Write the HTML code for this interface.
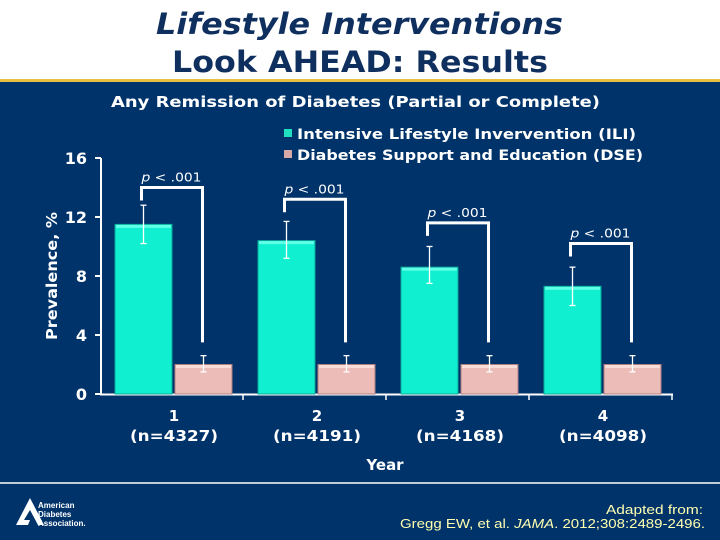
<!DOCTYPE html>
<html><head><meta charset="utf-8"><style>
body{margin:0;width:720px;height:540px;overflow:hidden;font-family:"DejaVu Sans","Liberation Sans",sans-serif}
#top{position:absolute;left:0;top:0;width:720px;height:79px;background:#fff}
#gold{position:absolute;left:0;top:79px;width:720px;height:3px;background:#e8c040}
#main{position:absolute;left:0;top:82px;width:720px;height:458px;background:#00336a}
</style></head><body>
<div id="top"></div>
<div id="gold"></div>
<div id="main"></div>
<svg id="chart" width="720" height="540" style="position:absolute;left:0;top:0" font-family="DejaVu Sans, Liberation Sans, sans-serif"></svg>
<script>
const categories=["1","2","3","4"];
const nLabels=["(n=4327)","(n=4191)","(n=4168)","(n=4098)"];
const iliValues=[11.5,10.4,8.6,7.3];
const iliLow=[10.2,9.2,7.5,6.0];
const iliHigh=[12.8,11.7,10.0,8.6];
const dseValues=[2.0,2.0,2.0,2.0];
const dseLow=[1.5,1.5,1.5,1.5];
const dseHigh=[2.6,2.6,2.6,2.6];
const bracketTop=[14.0,13.2,11.6,10.2];
const yTicks=[0,4,8,12,16];
const NS="http://www.w3.org/2000/svg";
const svg=document.getElementById('chart');
function y(v){return 394-v*14.75;}
function gx(i){return 101+i*143;}
function mk(tag,attrs,parent){const e=document.createElementNS(NS,tag);for(const k in attrs)e.setAttribute(k,attrs[k]);(parent||svg).appendChild(e);return e;}
function txt(s,attrs){const e=mk('text',attrs);e.textContent=s;return e;}
let e;
e=txt("Lifestyle Interventions",{x:156,y:34,fill:'#0f2f5f','font-size':29,'font-weight':'bold','font-style':'italic',textLength:407,lengthAdjust:'spacingAndGlyphs'});


e=txt("Look AHEAD: Results",{x:172,y:72,fill:'#0f2f5f','font-size':29,'font-weight':'bold',textLength:376,lengthAdjust:'spacingAndGlyphs'});


e=txt("Any Remission of Diabetes (Partial or Complete)",{x:111,y:107,fill:'#fff','font-size':15,'font-weight':'bold',textLength:489,lengthAdjust:'spacingAndGlyphs'});


// legend
e=mk('rect',{x:284,y:129,width:8,height:8,fill:'#20e0c0'});


e=txt("Intensive Lifestyle Invervention (ILI)",{x:297,y:139,fill:'#fff','font-size':14,'font-weight':'bold',textLength:339,lengthAdjust:'spacingAndGlyphs'});


e=mk('rect',{x:284,y:150,width:8,height:8,fill:'#d8a8a8'});


e=txt("Diabetes Support and Education (DSE)",{x:297,y:160,fill:'#fff','font-size':14,'font-weight':'bold',textLength:346,lengthAdjust:'spacingAndGlyphs'});


// axes
e=mk('line',{x1:101,y1:158,x2:101,y2:395,stroke:'#fff','stroke-width':2});


e=mk('line',{x1:100,y1:394.5,x2:673,y2:394.5,stroke:'#fff','stroke-width':2});


yTicks.forEach(v=>{
 mk('line',{x1:95,y1:y(v),x2:101,y2:y(v),stroke:'#fff','stroke-width':2});
 e=txt(String(v),{x:87,y:y(v)+6,'text-anchor':'end',fill:'#fff','font-size':16,'font-weight':'bold'});
 
 
});
for(let i=1;i<=4;i++) mk('line',{x1:gx(i)-1,y1:394,x2:gx(i)-1,y2:400,stroke:'#fff','stroke-width':1.5});
e=txt("Prevalence, %",{x:0,y:0,transform:'translate(57,276) rotate(-90)','text-anchor':'middle',fill:'#fff','font-size':15,'font-weight':'bold',textLength:128,lengthAdjust:'spacingAndGlyphs'});


e=txt("Year",{x:385,y:470,'text-anchor':'middle',fill:'#fff','font-size':15,'font-weight':'bold'});


function errbar(cx,lo,hi){
 mk('line',{x1:cx,y1:y(lo),x2:cx,y2:y(hi),stroke:'#fff','stroke-width':1.3});
 mk('line',{x1:cx-3,y1:y(lo),x2:cx+3,y2:y(lo),stroke:'#fff','stroke-width':1.3});
 mk('line',{x1:cx-3,y1:y(hi),x2:cx+3,y2:y(hi),stroke:'#fff','stroke-width':1.3});
}
categories.forEach((c,i)=>{
 const x0=gx(i)+14, w=57;
 e=mk('rect',{x:x0,y:y(iliValues[i]),width:w,height:y(0)-y(iliValues[i]),fill:'#10f0d0',stroke:'#0aa898','stroke-width':1});
 
 
 mk('rect',{x:x0+1,y:y(iliValues[i])+0.5,width:w-2,height:3,fill:'#60ffe8'});
 const x1=x0+w+3;
 e=mk('rect',{x:x1,y:y(dseValues[i]),width:w,height:y(0)-y(dseValues[i]),fill:'#ecbcb8',stroke:'#b08080','stroke-width':1});
 
 
 mk('rect',{x:x1+1,y:y(dseValues[i])+0.5,width:w-2,height:3,fill:'#f8dcd8'});
 errbar(x0+w/2,iliLow[i],iliHigh[i]);
 errbar(x1+w/2,dseLow[i],dseHigh[i]);
 const lx=x0+w/2-2, rx=x1+w/2-1, ty=y(bracketTop[i]);
 e=mk('polyline',{points:`${lx},${ty+13} ${lx},${ty} ${rx},${ty} ${rx},${y(3.5)}`,fill:'none',stroke:'#fff','stroke-width':3});
 
 
 e=mk('text',{x:lx,y:ty-6,fill:'#fff','font-size':12,'font-family':'DejaVu Sans, sans-serif',textLength:60,lengthAdjust:'spacingAndGlyphs'});
 e.innerHTML='<tspan font-style="italic">p</tspan> &lt; .001';
 
 
 e=txt(c,{x:gx(i)+73,y:421,'text-anchor':'middle',fill:'#fff','font-size':15,'font-weight':'bold'});
 
 
 e=txt(nLabels[i],{x:gx(i)+73,y:441,'text-anchor':'middle',fill:'#fff','font-size':15,'font-weight':'bold',textLength:88,lengthAdjust:'spacingAndGlyphs'});
 
 
});
e=mk('line',{x1:0,y1:483,x2:720,y2:483,stroke:'#fff','stroke-width':1.5});


e=mk('polygon',{points:'16,525 30,498 44,525 38,525 30,510 24,520 30,520 28,525',fill:'#fff'});


[["American",504],["Diabetes",513],["Association.",522]].forEach(a=>{
 e=txt(a[0],{x:38,y:a[1]+4,fill:'#fff','font-size':8,'font-family':'Liberation Sans, sans-serif','font-weight':'bold'});
 
 
});
e=txt("Adapted from:",{x:703,y:514,'text-anchor':'end',fill:'#ffffb0','font-size':13,'font-family':'Liberation Sans, sans-serif',textLength:97,lengthAdjust:'spacingAndGlyphs'});


e=mk('text',{x:400,y:528,fill:'#ffffb0','font-size':13,'font-family':'Liberation Sans, sans-serif',textLength:305,lengthAdjust:'spacingAndGlyphs'});
e.innerHTML='Gregg EW, et al. <tspan font-style="italic">JAMA</tspan>. 2012;308:2489-2496.';


</script>
</body></html>
